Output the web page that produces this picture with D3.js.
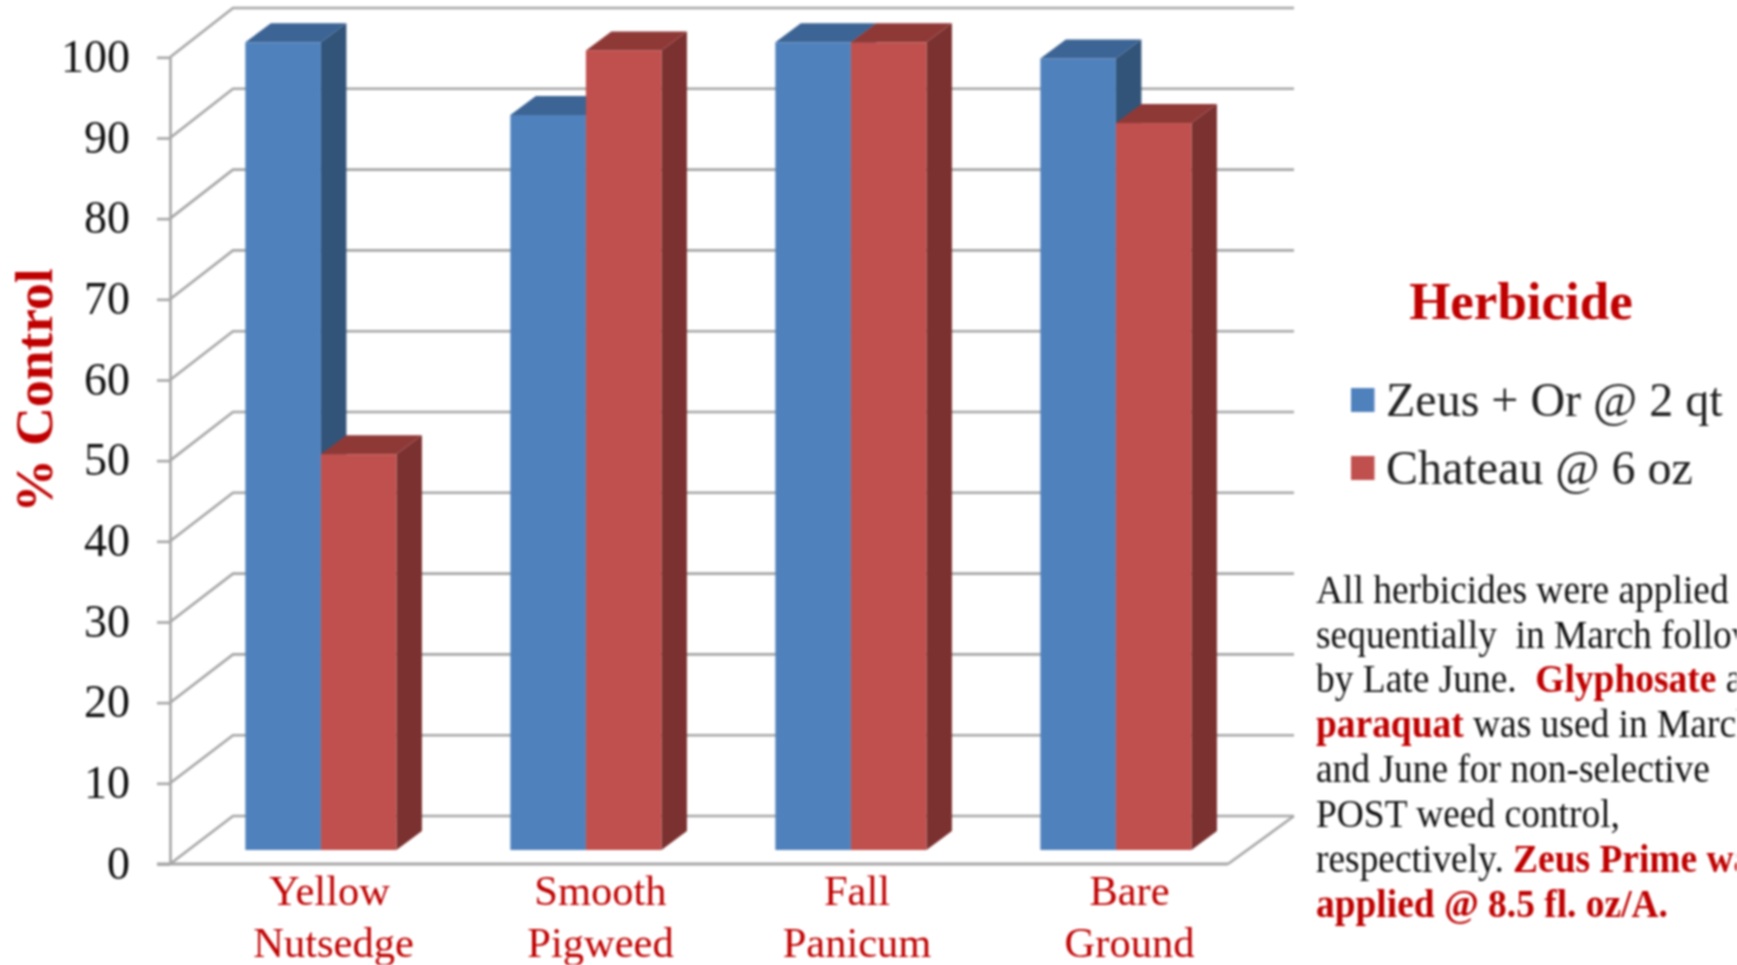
<!DOCTYPE html>
<html>
<head>
<meta charset="utf-8">
<script src="https://cdn.jsdelivr.net/npm/d3@7"></script>
<style>
  html, body { margin: 0; padding: 0; background: #fff; overflow: hidden; }
  svg { display: block; font-family: "Liberation Serif", serif; filter: blur(0.8px); }
  text { white-space: pre; }
</style>
</head>
<body>
<script>
const categories = ['Yellow Nutsedge', 'Smooth Pigweed', 'Fall Panicum', 'Bare Ground'];
const seriesNames = ['Zeus + Or @ 2 qt', 'Chateau @ 6 oz'];
const zeusValues = [100, 91, 100, 98];
const chateauValues = [49, 99, 100, 90];
const yTicks = [0, 10, 20, 30, 40, 50, 60, 70, 80, 90, 100];
const noteLines = [
  [['All herbicides were applied', 0]],
  [['sequentially  in March followed', 0]],
  [['by Late June.  ', 0], ['Glyphosate', 1], [' and', 0]],
  [['paraquat', 1], [' was used in March', 0]],
  [['and June for non-selective', 0]],
  [['POST weed control,', 0]],
  [['respectively. ', 0], ['Zeus Prime was', 1]],
  [['applied @ 8.5 fl. oz/A.', 1]]
];

const width = 1737;
const height = 965;
const RED = '#c00000';
const GRID = '#a6a6a6';
const colors = [
  { front: '#4f81bd', top: '#3c6494', side: '#325479' },
  { front: '#c0504d', top: '#8f3937', side: '#7b3130' }
];

const svg = d3.select('body').append('svg')
  .attr('width', width)
  .attr('height', height);

// wall and floor scales
const yFront = d3.scaleLinear().domain([0, 100]).range([864, 57.3]);
const yBack = d3.scaleLinear().domain([0, 100]).range([816, 8]);
const yBar = d3.scaleLinear().domain([0, 100]).range([850, 42.3]);
const floorLeft = 170, floorRight = 1228, backLeft = 233, backRight = 1294;

const x = d3.scaleBand().domain(categories).range([floorLeft, floorRight + 2]);
const xSeries = d3.scaleBand().domain(seriesNames).range([0, x.bandwidth()]).paddingOuter(0.754);
const barShift = 18.4;
const depthX = 25.5, depthY = 19;

// gridlines on the back wall and side wall
const grid = svg.append('g')
  .attr('fill', 'none')
  .attr('stroke', GRID)
  .attr('stroke-width', 2.6);

grid.selectAll('path')
  .data(yTicks)
  .enter()
  .append('path')
  .attr('d', d => `M${floorLeft},${yFront(d)}L${backLeft},${yBack(d)}L${backRight},${yBack(d)}`);

grid.append('path')
  .attr('d', `M${floorRight},${yFront(0)}L${backRight},${yBack(0)}`);

// y axis
const yAxis = d3.axisLeft(yFront)
  .tickValues(yTicks)
  .tickSize(13)
  .tickSizeOuter(0)
  .tickPadding(27);

const yAxisG = svg.append('g')
  .attr('transform', `translate(${floorLeft},0)`)
  .call(yAxis);
yAxisG.selectAll('line, path').attr('stroke', GRID).attr('stroke-width', 2.6);
yAxisG.selectAll('text')
  .attr('font-family', '"Liberation Serif", serif')
  .attr('font-size', 46)
  .attr('fill', '#111')
  .attr('dy', '0.31em');

// floor front edge
svg.append('line')
  .attr('x1', floorLeft - 13)
  .attr('x2', floorRight)
  .attr('y1', yFront(0))
  .attr('y2', yFront(0))
  .attr('stroke', GRID)
  .attr('stroke-width', 3);

// bars
const barData = [];
categories.forEach((c, i) => {
  seriesNames.forEach((s, k) => {
    barData.push({ category: c, series: s, k: k, value: (k === 0 ? zeusValues : chateauValues)[i] });
  });
});

const bar = svg.append('g')
  .selectAll('g')
  .data(barData)
  .enter()
  .append('g');

const barX = d => x(d.category) + xSeries(d.series) + barShift;
const bw = xSeries.bandwidth();

bar.append('polygon')
  .attr('fill', d => colors[d.k].side)
  .attr('points', d => {
    const r = barX(d) + bw;
    return [[r, yBar(d.value)], [r + depthX, yBar(d.value) - depthY], [r + depthX, yBar(0) - depthY], [r, yBar(0)]].join(' ');
  });

bar.append('polygon')
  .attr('fill', d => colors[d.k].top)
  .attr('points', d => {
    const l = barX(d), t = yBar(d.value);
    return [[l, t], [l + depthX, t - depthY], [l + bw + depthX, t - depthY], [l + bw, t]].join(' ');
  });

bar.append('rect')
  .attr('x', barX)
  .attr('y', d => yBar(d.value))
  .attr('width', bw)
  .attr('height', d => yBar(0) - yBar(d.value))
  .attr('fill', d => colors[d.k].front);

// category labels, hand placed in the original so nudged off the band centre
const labelNudge = [[27, 31], [33, 33], [24.5, 24.5], [32, 32]];
const catLabel = svg.append('g')
  .attr('text-anchor', 'middle')
  .attr('font-size', 42.5)
  .attr('fill', RED)
  .selectAll('text')
  .data(categories)
  .enter()
  .append('text');

catLabel.selectAll('tspan')
  .data((d, i) => d.split(' ').map((w, j) => ({ w: w, j: j, i: i, c: d })))
  .enter()
  .append('tspan')
  .attr('x', d => x(d.c) + x.bandwidth() / 2 + labelNudge[d.i][d.j])
  .attr('y', d => 905 + d.j * 51.5)
  .text(d => d.w);

// axis title
svg.append('text')
  .attr('transform', 'translate(52,390.5) rotate(-90)')
  .attr('text-anchor', 'middle')
  .attr('font-size', 53.5)
  .attr('font-weight', 'bold')
  .attr('fill', RED)
  .text('% Control');

// legend
svg.append('text')
  .attr('x', 1521)
  .attr('y', 319)
  .attr('text-anchor', 'middle')
  .attr('font-size', 53)
  .attr('font-weight', 'bold')
  .attr('fill', RED)
  .text('Herbicide');

const legend = svg.append('g')
  .selectAll('g')
  .data(seriesNames)
  .enter()
  .append('g')
  .attr('transform', (d, i) => `translate(1351,${388 + i * 68})`);

legend.append('rect')
  .attr('width', 23.5)
  .attr('height', 24)
  .attr('fill', (d, i) => colors[i].front);

legend.append('text')
  .attr('x', 35)
  .attr('y', 27.5)
  .attr('font-size', 48)
  .attr('fill', '#222')
  .text(d => d);

// note on the right, runs off the page as in the original
const note = svg.append('g')
  .attr('font-size', 39)
  .selectAll('text')
  .data(noteLines)
  .enter()
  .append('text')
  .attr('transform', (d, i) => `translate(1316,${602.6 + i * 44.9}) scale(0.96,1)`);

note.selectAll('tspan')
  .data(d => d)
  .enter()
  .append('tspan')
  .attr('font-weight', d => d[1] ? 'bold' : 'normal')
  .attr('fill', d => d[1] ? RED : '#111')
  .text(d => d[0]);
</script>
</body>
</html>
